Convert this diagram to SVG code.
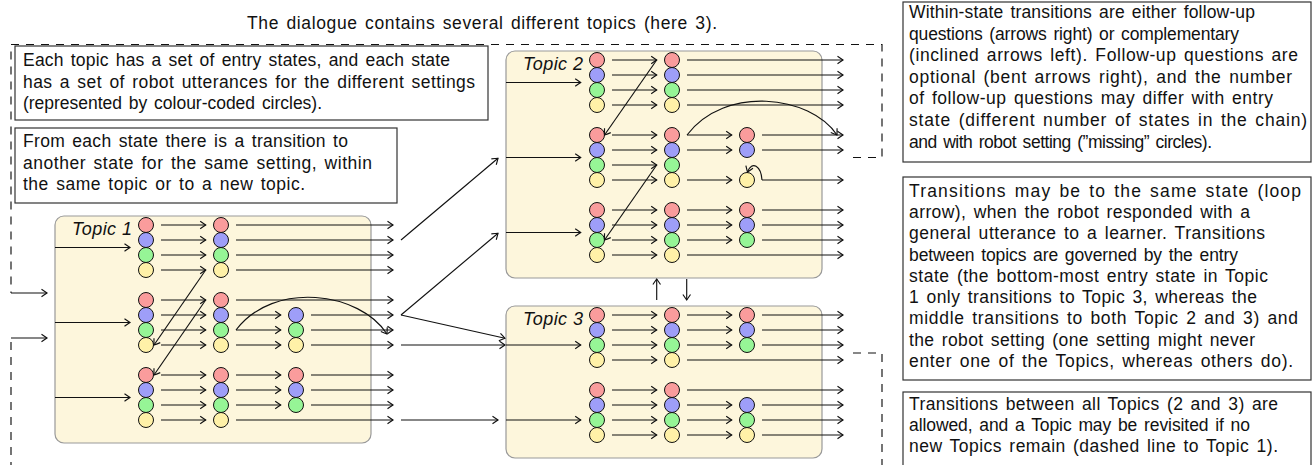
<svg xmlns="http://www.w3.org/2000/svg" width="1313" height="465" viewBox="0 0 1313 465">
<style>
text{font-family:"Liberation Sans",Arial,sans-serif;font-size:17.5px;fill:#111;word-spacing:2px}
.lbl{font-size:18px;font-style:italic;word-spacing:0}
.tb{fill:#fff;stroke:#333;stroke-width:1.2}
.topic{fill:#FDF6DC;stroke:#999;stroke-width:1.2}
circle{stroke:#111;stroke-width:1}
.r{fill:#FA9C9C}.b{fill:#9E9EF8}.g{fill:#96F596}.y{fill:#FFF1A8}
.a{fill:none;stroke:#111;stroke-width:1.15;marker-end:url(#ah)}
.d{fill:none;stroke:#111;stroke-width:1.15;stroke-dasharray:8 7}
</style>
<defs>
<marker id="ah" markerUnits="userSpaceOnUse" markerWidth="8" markerHeight="10" refX="0" refY="0" orient="auto" overflow="visible">
<path d="M-5.5,-3.8 Q-1.8,-1.3 0,0 Q-1.8,1.3 -5.5,3.8" fill="none" stroke="#111" stroke-width="1.15"/>
</marker>
</defs>
<text x="247" y="29" textLength="470" lengthAdjust="spacing">The dialogue contains several different topics (here 3).</text>

<g id="dashed-return">
<path class="d" d="M853,157.5H882V44.5H11V293"/>
<path class="d" d="M853,353H882V470"/>
<path class="d" d="M11,470V338"/>
</g>

<g id="note-entry">
<rect class="tb" x="15" y="46" width="473" height="74"/>
<text x="23" y="66" textLength="427" lengthAdjust="spacing">Each topic has a set of entry states, and each state</text>
<text x="23" y="88" textLength="452" lengthAdjust="spacing">has a set of robot utterances for the different settings</text>
<text x="23" y="109" textLength="299" lengthAdjust="spacing">(represented by colour-coded circles).</text>
</g>
<g id="note-transition">
<rect class="tb" x="15" y="128" width="382" height="75"/>
<text x="23" y="147" textLength="325" lengthAdjust="spacing">From each state there is a transition to</text>
<text x="23" y="168.5" textLength="349" lengthAdjust="spacing">another state for the same setting, within</text>
<text x="23" y="190" textLength="282" lengthAdjust="spacing">the same topic or to a new topic.</text>
</g>
<g id="note-within">
<rect class="tb" x="903" y="2" width="408" height="160"/>
<text x="909" y="18" textLength="346" lengthAdjust="spacing">Within-state transitions are either follow-up</text>
<text x="909" y="39.6" textLength="330" lengthAdjust="spacing">questions (arrows right) or complementary</text>
<text x="909" y="61.2" textLength="389" lengthAdjust="spacing">(inclined arrows left). Follow-up questions are</text>
<text x="909" y="82.8" textLength="383" lengthAdjust="spacing">optional (bent arrows right), and the number</text>
<text x="909" y="104.4" textLength="364" lengthAdjust="spacing">of follow-up questions may differ with entry</text>
<text x="909" y="126" textLength="398" lengthAdjust="spacing">state (different number of states in the chain)</text>
<text x="909" y="147.6" textLength="303" lengthAdjust="spacing">and with robot setting (”missing” circles).</text>
</g>
<g id="note-loop">
<rect class="tb" x="903" y="177" width="408" height="203"/>
<text x="909" y="196.7" textLength="392" lengthAdjust="spacing">Transitions may be to the same state (loop</text>
<text x="909" y="218" textLength="341" lengthAdjust="spacing">arrow), when the robot responded with a</text>
<text x="909" y="239.2" textLength="356" lengthAdjust="spacing">general utterance to a learner. Transitions</text>
<text x="909" y="260.5" textLength="329" lengthAdjust="spacing">between topics are governed by the entry</text>
<text x="909" y="281.7" textLength="359" lengthAdjust="spacing">state (the bottom-most entry state in Topic</text>
<text x="909" y="303" textLength="348" lengthAdjust="spacing">1 only transitions to Topic 3, whereas the</text>
<text x="909" y="324.2" textLength="389" lengthAdjust="spacing">middle transitions to both Topic 2 and 3) and</text>
<text x="909" y="345.5" textLength="346" lengthAdjust="spacing">the robot setting (one setting might never</text>
<text x="909" y="366.7" textLength="384" lengthAdjust="spacing">enter one of the Topics, whereas others do).</text>
</g>
<g id="note-revisit">
<rect class="tb" x="903" y="392" width="408" height="80"/>
<text x="909" y="410" textLength="369" lengthAdjust="spacing">Transitions between all Topics (2 and 3) are</text>
<text x="909" y="431" textLength="341" lengthAdjust="spacing">allowed, and a Topic may be revisited if no</text>
<text x="909" y="452" textLength="369" lengthAdjust="spacing">new Topics remain (dashed line to Topic 1).</text>
</g>

<g id="topic1">
<rect class="topic" x="55" y="216" width="316" height="227" rx="9"/>
<text class="lbl" x="72" y="235" textLength="60" lengthAdjust="spacing">Topic 1</text>
<g id="t1-s1">
<circle class="r" cx="146" cy="225" r="7.5"/><circle class="b" cx="146" cy="240" r="7.5"/><circle class="g" cx="146" cy="255" r="7.5"/><circle class="y" cx="146" cy="270" r="7.5"/>
<circle class="r" cx="221" cy="225" r="7.5"/><circle class="b" cx="221" cy="240" r="7.5"/><circle class="g" cx="221" cy="255" r="7.5"/><circle class="y" cx="221" cy="270" r="7.5"/>
</g>
<g id="t1-s2">
<circle class="r" cx="146" cy="300" r="7.5"/><circle class="b" cx="146" cy="315" r="7.5"/><circle class="g" cx="146" cy="330" r="7.5"/><circle class="y" cx="146" cy="345" r="7.5"/>
<circle class="r" cx="221" cy="300" r="7.5"/><circle class="b" cx="221" cy="315" r="7.5"/><circle class="g" cx="221" cy="330" r="7.5"/><circle class="y" cx="221" cy="345" r="7.5"/>
<circle class="b" cx="296" cy="315" r="7.5"/><circle class="g" cx="296" cy="330" r="7.5"/><circle class="y" cx="296" cy="345" r="7.5"/>
</g>
<g id="t1-s3">
<circle class="r" cx="146" cy="375" r="7.5"/><circle class="b" cx="146" cy="390" r="7.5"/><circle class="g" cx="146" cy="405" r="7.5"/><circle class="y" cx="146" cy="420" r="7.5"/>
<circle class="r" cx="221" cy="375" r="7.5"/><circle class="b" cx="221" cy="390" r="7.5"/><circle class="g" cx="221" cy="405" r="7.5"/><circle class="y" cx="221" cy="420" r="7.5"/>
<circle class="r" cx="296" cy="375" r="7.5"/><circle class="b" cx="296" cy="390" r="7.5"/><circle class="g" cx="296" cy="405" r="7.5"/>
</g>
</g>

<g id="topic2">
<rect class="topic" x="506" y="51" width="316" height="227" rx="9"/>
<text class="lbl" x="523" y="70" textLength="60" lengthAdjust="spacing">Topic 2</text>
<g id="t2-s1">
<circle class="r" cx="597" cy="60" r="7.5"/><circle class="b" cx="597" cy="75" r="7.5"/><circle class="g" cx="597" cy="90" r="7.5"/><circle class="y" cx="597" cy="105" r="7.5"/>
<circle class="r" cx="672" cy="60" r="7.5"/><circle class="b" cx="672" cy="75" r="7.5"/><circle class="g" cx="672" cy="90" r="7.5"/><circle class="y" cx="672" cy="105" r="7.5"/>
</g>
<g id="t2-s2">
<circle class="r" cx="597" cy="135" r="7.5"/><circle class="b" cx="597" cy="150" r="7.5"/><circle class="g" cx="597" cy="165" r="7.5"/><circle class="y" cx="597" cy="180" r="7.5"/>
<circle class="r" cx="672" cy="135" r="7.5"/><circle class="b" cx="672" cy="150" r="7.5"/><circle class="g" cx="672" cy="165" r="7.5"/><circle class="y" cx="672" cy="180" r="7.5"/>
<circle class="r" cx="747" cy="135" r="7.5"/><circle class="b" cx="747" cy="150" r="7.5"/><circle class="y" cx="747" cy="180" r="7.5"/>
</g>
<g id="t2-s3">
<circle class="r" cx="597" cy="210" r="7.5"/><circle class="b" cx="597" cy="225" r="7.5"/><circle class="g" cx="597" cy="240" r="7.5"/><circle class="y" cx="597" cy="255" r="7.5"/>
<circle class="r" cx="672" cy="210" r="7.5"/><circle class="b" cx="672" cy="225" r="7.5"/><circle class="g" cx="672" cy="240" r="7.5"/><circle class="y" cx="672" cy="255" r="7.5"/>
<circle class="r" cx="747" cy="210" r="7.5"/><circle class="b" cx="747" cy="225" r="7.5"/><circle class="g" cx="747" cy="240" r="7.5"/>
</g>
</g>

<g id="topic3">
<rect class="topic" x="506" y="306" width="316" height="152" rx="9"/>
<text class="lbl" x="523" y="325" textLength="60" lengthAdjust="spacing">Topic 3</text>
<g id="t3-s1">
<circle class="r" cx="597" cy="315" r="7.5"/><circle class="b" cx="597" cy="330" r="7.5"/><circle class="g" cx="597" cy="345" r="7.5"/><circle class="y" cx="597" cy="360" r="7.5"/>
<circle class="r" cx="672" cy="315" r="7.5"/><circle class="b" cx="672" cy="330" r="7.5"/><circle class="g" cx="672" cy="345" r="7.5"/><circle class="y" cx="672" cy="360" r="7.5"/>
<circle class="r" cx="747" cy="315" r="7.5"/><circle class="b" cx="747" cy="330" r="7.5"/><circle class="g" cx="747" cy="345" r="7.5"/>
</g>
<g id="t3-s2">
<circle class="r" cx="597" cy="390" r="7.5"/><circle class="b" cx="597" cy="405" r="7.5"/><circle class="g" cx="597" cy="420" r="7.5"/><circle class="y" cx="597" cy="435" r="7.5"/>
<circle class="r" cx="672" cy="390" r="7.5"/><circle class="b" cx="672" cy="405" r="7.5"/><circle class="g" cx="672" cy="420" r="7.5"/><circle class="y" cx="672" cy="435" r="7.5"/>
<circle class="b" cx="747" cy="405" r="7.5"/><circle class="g" cx="747" cy="420" r="7.5"/><circle class="y" cx="747" cy="435" r="7.5"/>
</g>
</g>

<g id="connectors">
<path class="a" d="M11,293H47"/>
<path class="a" d="M11,338H47"/>
<path class="a" d="M55,247.5H130"/><path class="a" d="M55,322.5H130"/><path class="a" d="M55,397.5H130"/>
<path class="a" d="M161,225H205.7"/><path class="a" d="M161,240H205.7"/><path class="a" d="M161,255H205.7"/><path class="a" d="M161,270H205.7"/>
<path class="a" d="M161,300H205.7"/><path class="a" d="M161,315H205.7"/><path class="a" d="M161,330H205.7"/><path class="a" d="M161,345H205.7"/>
<path class="a" d="M161,375H205.7"/><path class="a" d="M161,390H205.7"/><path class="a" d="M161,405H205.7"/><path class="a" d="M161,420H205.7"/>
<path class="a" d="M236,225H393"/><path class="a" d="M236,240H393"/><path class="a" d="M236,255H393"/><path class="a" d="M236,270H393"/>
<path class="a" d="M236,300H393"/><path class="a" d="M236,420H393"/>
<path class="a" d="M236,315H280.7"/><path class="a" d="M236,330H280.7"/><path class="a" d="M236,345H280.7"/>
<path class="a" d="M236,375H280.7"/><path class="a" d="M236,390H280.7"/><path class="a" d="M236,405H280.7"/>
<path class="a" d="M311,315H393"/><path class="a" d="M311,330H393"/><path class="a" d="M311,345H393"/>
<path class="a" d="M311,375H393"/><path class="a" d="M311,390H393"/><path class="a" d="M311,405H393"/>
<path class="a" d="M205.7,270L154,345"/>
<path class="a" d="M205.7,300L154,375"/>
<path class="a" d="M236,330C274,280 360,292 387,334"/>
<path class="a" d="M401,240L498,158.3"/>
<path class="a" d="M401,315L498,233.3"/>
<path class="a" d="M401,315L505,338.3"/>
<path class="a" d="M401,345H505"/>
<path class="a" d="M401,420H498"/>
<path class="a" d="M506,82.5H580.7"/><path class="a" d="M506,157.5H580.7"/><path class="a" d="M506,232.5H580.7"/>
<path class="a" d="M612,60H656.7"/><path class="a" d="M612,75H656.7"/><path class="a" d="M612,90H656.7"/><path class="a" d="M612,105H656.7"/>
<path class="a" d="M612,135H656.7"/><path class="a" d="M612,150H656.7"/><path class="a" d="M612,165H656.7"/><path class="a" d="M612,180H656.7"/>
<path class="a" d="M612,210H656.7"/><path class="a" d="M612,225H656.7"/><path class="a" d="M612,240H656.7"/><path class="a" d="M612,255H656.7"/>
<path class="a" d="M687,60H843"/><path class="a" d="M687,75H843"/><path class="a" d="M687,90H843"/><path class="a" d="M687,105H843"/><path class="a" d="M687,255H843"/>
<path class="a" d="M687,135H731.7"/><path class="a" d="M687,150H731.7"/><path class="a" d="M687,180H731.7"/>
<path class="a" d="M687,210H731.7"/><path class="a" d="M687,225H731.7"/><path class="a" d="M687,240H731.7"/>
<path class="a" d="M762,135H843"/><path class="a" d="M762,150H843"/><path class="a" d="M762,180H843"/>
<path class="a" d="M762,210H843"/><path class="a" d="M762,225H843"/><path class="a" d="M762,240H843"/>
<path class="a" d="M656.7,60L604.5,135"/>
<path class="a" d="M656.7,165L604.5,240"/>
<path class="a" d="M687,135C725,85 810,95 837,135"/>
<path class="a" d="M762,180C761,166 752,160 747.5,172"/>
<path class="a" d="M656.7,300V279"/>
<path class="a" d="M686.7,279V300"/>
<path class="a" d="M506,345H580.7"/><path class="a" d="M506,420H580.7"/>
<path class="a" d="M612,315H656.7"/><path class="a" d="M612,330H656.7"/><path class="a" d="M612,345H656.7"/><path class="a" d="M612,360H656.7"/>
<path class="a" d="M612,390H656.7"/><path class="a" d="M612,405H656.7"/><path class="a" d="M612,420H656.7"/><path class="a" d="M612,435H656.7"/>
<path class="a" d="M687,315H731.7"/><path class="a" d="M687,330H731.7"/><path class="a" d="M687,345H731.7"/>
<path class="a" d="M687,405H731.7"/><path class="a" d="M687,420H731.7"/><path class="a" d="M687,435H731.7"/>
<path class="a" d="M762,315H843"/><path class="a" d="M762,330H843"/><path class="a" d="M762,345H843"/>
<path class="a" d="M762,405H843"/><path class="a" d="M762,420H843"/><path class="a" d="M762,435H843"/>
<path class="a" d="M687,360H843"/><path class="a" d="M687,390H843"/>
</g>
</svg>
